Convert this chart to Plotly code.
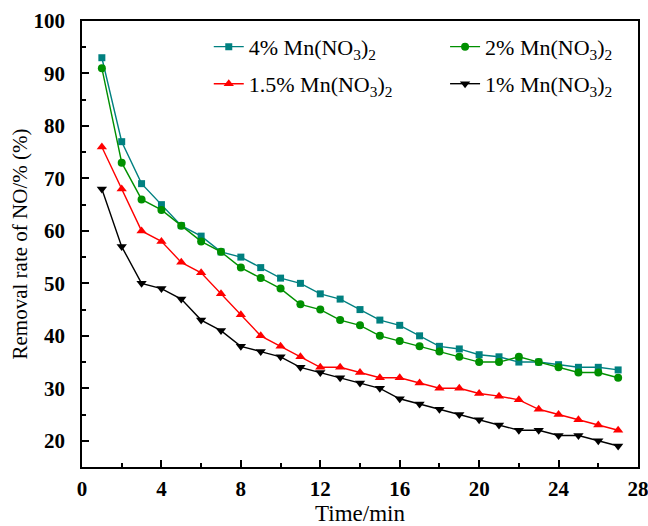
import plotly.graph_objects as go

# Sampling times (min)
time_min = list(range(1, 28))

# NO removal rate (%) for each Mn(NO3)2 loading
rate_4pct = [93, 77, 69, 65, 61, 59, 56, 55, 53, 51, 50, 48, 47, 45, 43, 42, 40, 38,
             37.5, 36.4, 36, 35, 35, 34.5, 34, 34, 33.5]
rate_2pct = [91, 73, 66, 64, 61, 58, 56, 53, 51, 49, 46, 45, 43, 42, 40, 39, 38, 37,
             36, 35, 35, 36, 35, 34, 33, 33, 32]
rate_1_5pct = [76, 68, 60, 58, 54, 52, 48, 44, 40, 38, 36, 34, 34, 33, 32, 32, 31, 30,
               30, 29, 28.5, 27.8, 26, 25, 24, 23, 22]
rate_1pct = [68, 57, 50, 49, 47, 43, 41, 38, 37, 36, 34, 33, 32, 31, 30, 28, 27, 26,
             25, 24, 23, 22, 22, 21, 21, 20, 19]

FONT = "Liberation Serif, Times New Roman, serif"

# (label, values, colour, marker, marker size, legend id, legend x, legend y)
series = [
    ("4% Mn(NO<sub>3</sub>)<sub>2</sub>", rate_4pct, "#008080", "square", 7, "legend", 0.228, 0.942),
    ("2% Mn(NO<sub>3</sub>)<sub>2</sub>", rate_2pct, "#009000", "circle", 8, "legend2", 0.653, 0.942),
    ("1.5% Mn(NO<sub>3</sub>)<sub>2</sub>", rate_1_5pct, "#FF0000", "triangle-up", 9, "legend3", 0.228, 0.859),
    ("1% Mn(NO<sub>3</sub>)<sub>2</sub>", rate_1pct, "#000000", "triangle-down", 9, "legend4", 0.653, 0.859),
]

fig = go.Figure()
legends = {}
for name, vals, color, symbol, size, leg, lx, ly in series:
    fig.add_trace(go.Scatter(
        x=time_min, y=vals, name=name, mode="lines+markers",
        line=dict(color=color, width=1.4),
        marker=dict(symbol=symbol, size=size, color=color),
        legend=leg, showlegend=True,
    ))
    legends[leg] = dict(
        x=lx, y=ly, xanchor="left", yanchor="middle", orientation="h",
        font=dict(family=FONT, size=22, color="black"),
        bgcolor="rgba(0,0,0,0)", itemwidth=30, visible=True,
    )

axis_font = dict(family=FONT, size=21, color="black", weight="bold")

fig.update_layout(
    width=648, height=526,
    margin=dict(l=82, r=10, t=21, b=59, autoexpand=False),
    paper_bgcolor="white", plot_bgcolor="white",
    font=dict(family=FONT, color="black"),
    showlegend=True,
    **legends,
    xaxis=dict(
        range=[0, 28], tickmode="linear", tick0=0, dtick=4,
        ticks="inside", ticklen=7, tickwidth=1.5, tickcolor="black",
        minor=dict(dtick=2, ticks="inside", ticklen=4, tickwidth=1.5, tickcolor="black"),
        showline=True, linecolor="black", linewidth=1.8, mirror=True,
        showgrid=False, zeroline=False, automargin=False,
        tickfont=axis_font, ticklabelstandoff=2, ticklabeloverflow="allow",
        title=dict(text="Time/min", font=dict(family=FONT, size=23, color="black"), standoff=10),
    ),
    yaxis=dict(
        range=[15, 100], tickmode="array", tickvals=[20, 30, 40, 50, 60, 70, 80, 90, 100],
        ticks="inside", ticklen=7, tickwidth=1.5, tickcolor="black",
        minor=dict(tickvals=[15, 25, 35, 45, 55, 65, 75, 85, 95], ticks="inside", ticklen=4,
                   tickwidth=1.5, tickcolor="black"),
        showline=True, linecolor="black", linewidth=1.8, mirror=True,
        showgrid=False, zeroline=False, automargin=False,
        tickfont=axis_font, ticklabelstandoff=11, ticklabeloverflow="allow",
        title=dict(text="Removal rate of NO/% (%)", font=dict(family=FONT, size=21, color="black"), standoff=0),
    ),
)

fig.write_html("out.html")
